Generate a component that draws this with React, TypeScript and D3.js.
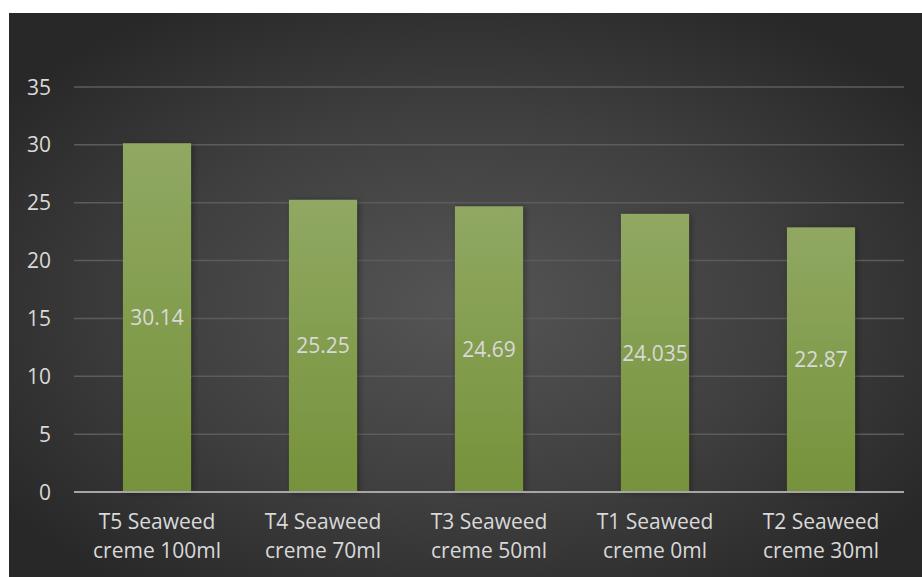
import React from "react";
import * as d3 from "d3";

const categories = [
  ["T5 Seaweed", "creme 100ml"],
  ["T4 Seaweed", "creme 70ml"],
  ["T3 Seaweed", "creme 50ml"],
  ["T1 Seaweed", "creme 0ml"],
  ["T2 Seaweed", "creme 30ml"],
];
const values = [30.14, 25.25, 24.69, 24.035, 22.87];
const labels = ["30.14", "25.25", "24.69", "24.035", "22.87"];
const yTicks = [0, 5, 10, 15, 20, 25, 30, 35];

const W = 922;
const H = 577;
const FONT = "'Open Sans', sans-serif";

export default function App() {
  const left = 74;
  const right = 904;
  const y = d3.scaleLinear().domain([0, 35]).range([492, 87]);
  const x = d3
    .scaleBand<number>()
    .domain(values.map((_, i) => i))
    .range([left, right])
    .paddingInner(0.59)
    .paddingOuter(0.295);

  return (
    <svg
      width={W}
      height={H}
      style={{ position: "absolute", left: 0, top: 0 }}
    >
      <defs>
        <radialGradient id="bg" cx="0.5" cy="0.52" r="0.62" gradientUnits="objectBoundingBox">
          <stop offset="0" stopColor="#555555" />
          <stop offset="0.55" stopColor="#3f3f3f" />
          <stop offset="1" stopColor="#282828" />
        </radialGradient>
        <linearGradient id="bar" x1="0" y1="0" x2="0" y2="1">
          <stop offset="0" stopColor="#90a862" />
          <stop offset="1" stopColor="#76923b" />
        </linearGradient>
        <filter id="shadow" x="-20%" y="-5%" width="150%" height="115%">
          <feDropShadow dx="2" dy="1" stdDeviation="3" floodColor="#000" floodOpacity="0.35" />
        </filter>
      </defs>
      <rect x={9} y={13} width={W - 9} height={H - 13} fill="url(#bg)" />

      {yTicks.slice(1).map((t) => (
        <line
          key={t}
          x1={left}
          x2={right}
          y1={y(t)}
          y2={y(t)}
          stroke="#5c5c5c"
          strokeWidth={1.5}
        />
      ))}

      {yTicks.map((t) => (
        <text
          key={t}
          x={51}
          y={y(t)}
          dy="0.36em"
          textAnchor="end"
          fontFamily={FONT}
          fontSize={21}
          fill="#d9d9d9"
        >
          {t}
        </text>
      ))}

      {values.map((v, i) => (
        <rect
          key={i}
          x={x(i)}
          y={y(v)}
          width={x.bandwidth()}
          height={y(0) - y(v)}
          fill="url(#bar)"
          filter="url(#shadow)"
        />
      ))}

      <line x1={left} x2={right} y1={y(0)} y2={y(0)} stroke="#a6a6a6" strokeWidth={2} />

      {values.map((v, i) => (
        <text
          key={i}
          x={(x(i) as number) + x.bandwidth() / 2}
          y={(y(v) + y(0)) / 2}
          dy="0.36em"
          textAnchor="middle"
          fontFamily={FONT}
          fontSize={21}
          fill="#d9d9d9"
        >
          {labels[i]}
        </text>
      ))}

      {categories.map((c, i) => (
        <text
          key={i}
          textAnchor="middle"
          fontFamily={FONT}
          fontSize={21}
          fill="#d9d9d9"
        >
          {c.map((line, j) => (
            <tspan key={j} x={(x(i) as number) + x.bandwidth() / 2} y={529 + j * 29}>
              {line}
            </tspan>
          ))}
        </text>
      ))}
    </svg>
  );
}
